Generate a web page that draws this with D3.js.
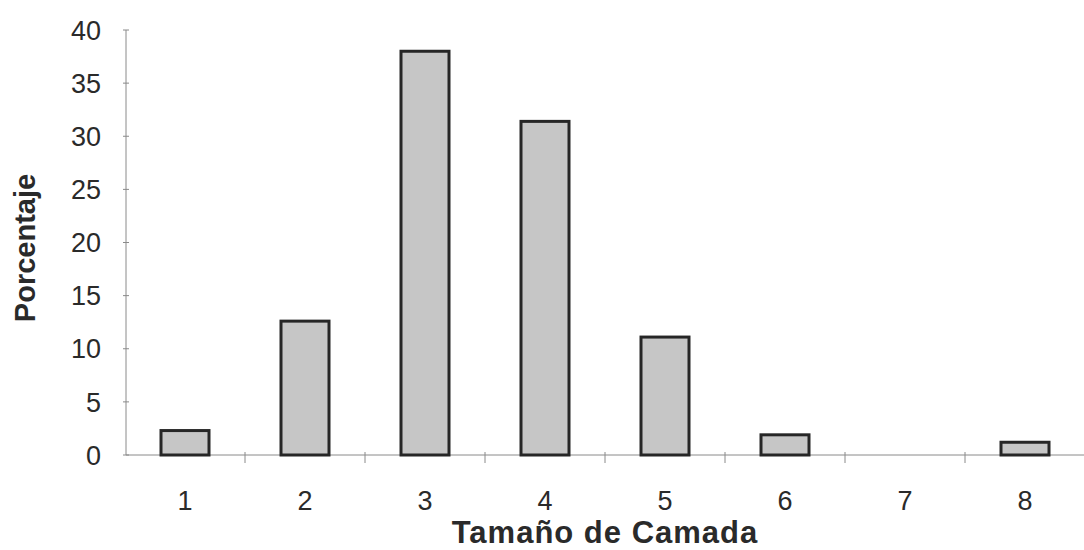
<!DOCTYPE html>
<html>
<head>
<meta charset="utf-8">
<script src="https://cdn.jsdelivr.net/npm/d3@7"></script>
<style>
  html, body { margin: 0; padding: 0; background: #fff; }
  svg { display: block; }
  text { font-family: "Liberation Sans", Arial, sans-serif; fill: #2a2a2a; }
</style>
</head>
<body>
<svg id="chart" width="1084" height="550"></svg>
<script>
const categories = ["1", "2", "3", "4", "5", "6", "7", "8"];
const values = [2.3, 12.6, 38.0, 31.4, 11.1, 1.9, 0, 1.2];
const yTicks = [0, 5, 10, 15, 20, 25, 30, 35, 40];
const xTitle = "Tamaño de Camada";
const yTitle = "Porcentaje";

const svg = d3.select("#chart");

const x = d3.scaleBand().domain(categories).range([125, 1085]).paddingInner(0.6).paddingOuter(0.3);
const y = d3.scaleLinear().domain([0, 40]).range([455, 30]);

// axis lines
const axisColor = "#8a8a8a";
svg.append("line").attr("x1", x.range()[0]+1).attr("x2", x.range()[0]+1)
  .attr("y1", y(40)).attr("y2", y(0)).attr("stroke", axisColor).attr("stroke-width", 1);
svg.append("line").attr("x1", x.range()[0]+1).attr("x2", 1084)
  .attr("y1", y(0)).attr("y2", y(0)).attr("stroke", axisColor).attr("stroke-width", 1);

// y ticks
svg.append("g").selectAll("line").data(yTicks).join("line")
  .attr("x1", x.range()[0]-2).attr("x2", x.range()[0]+4)
  .attr("y1", d => y(d)).attr("y2", d => y(d))
  .attr("stroke", axisColor).attr("stroke-width", 1);

svg.append("g").selectAll("text").data(yTicks).join("text")
  .attr("x", 101).attr("y", d => y(d))
  .attr("dy", "0.36em")
  .attr("text-anchor", "end")
  .attr("font-size", 27)
  .text(d => d);

// x ticks at category boundaries
const step = x.step();
const boundaries = categories.slice(1).map(c => x(c) - x.paddingInner() * step / 2);
svg.append("g").selectAll("line").data(boundaries).join("line")
  .attr("x1", d => d).attr("x2", d => d)
  .attr("y1", y(0) - 3).attr("y2", y(0) + 8)
  .attr("stroke", axisColor).attr("stroke-width", 1);

// bars
svg.append("g").selectAll("rect").data(categories.map((c, i) => ({c, v: values[i]})).filter(d => d.v > 0))
  .join("rect")
  .attr("x", d => x(d.c))
  .attr("width", x.bandwidth())
  .attr("y", d => y(d.v))
  .attr("height", d => y(0) - y(d.v))
  .attr("fill", "#c6c6c6")
  .attr("stroke", "#262626")
  .attr("stroke-width", 3);

// x tick labels
svg.append("g").selectAll("text").data(categories).join("text")
  .attr("x", d => x(d) + x.bandwidth() / 2)
  .attr("y", 510)
  .attr("text-anchor", "middle")
  .attr("font-size", 27)
  .text(d => d);

// axis titles
svg.append("text")
  .attr("x", 605).attr("y", 543)
  .attr("text-anchor", "middle")
  .attr("font-size", 31)
  .attr("font-weight", "bold")
  .attr("letter-spacing", 1)
  .text(xTitle);

svg.append("text")
  .attr("transform", "translate(35,248) rotate(-90)")
  .attr("text-anchor", "middle")
  .attr("font-size", 29)
  .attr("font-weight", "bold")
  .text(yTitle);
</script>
</body>
</html>
